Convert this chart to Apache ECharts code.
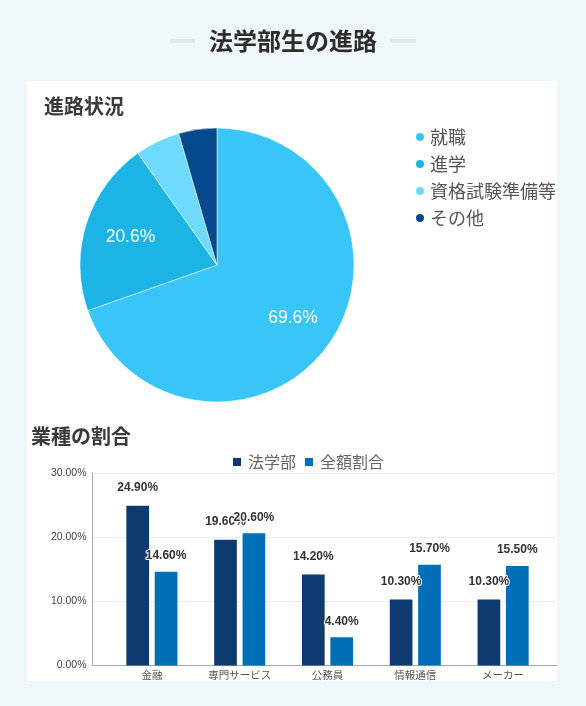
<!DOCTYPE html>
<html>
<head>
<meta charset="utf-8">
<script src="https://cdn.jsdelivr.net/npm/echarts@6/dist/echarts.min.js"></script>
<style>
html,body{margin:0;padding:0;background:#eff7fb;}
#c{width:586px;height:706px;}
</style>
</head>
<body>
<div id="c"></div>
<script>
// Pie data
const pieNames = ['就職', '進学', '資格試験準備等', 'その他'];
const pieValues = [69.6, 20.6, 5.3, 4.5];
const pieColors = ['#3ac5f8', '#1bb4e4', '#6fdafd', '#04498c'];

// Bar data
const categories = ['金融', '専門サービス', '公務員', '情報通信', 'メーカー'];
const lawValues = [24.9, 19.6, 14.2, 10.3, 10.3];
const allValues = [14.6, 20.6, 4.4, 15.7, 15.5];
const seriesNames = ['法学部', '全額割合'];
const yTicks = [0, 10, 20, 30];

const JP = '"Noto Sans CJK JP", "Noto Sans", sans-serif';
const AR = '"Liberation Sans", Arial, sans-serif';

const chart = echarts.init(document.getElementById('c'), null, {renderer: 'canvas'});

const labelShift = [[17.6, 11.7], [-18.4, -6.3], [0, 0], [0, 0]];

const option = {
  backgroundColor: 'transparent',
  animation: false,
  graphic: [
    {type: 'rect', z: -10, shape: {x: 27, y: 81, width: 530, height: 600}, style: {fill: '#ffffff'}},
    {type: 'rect', shape: {x: 170, y: 39, width: 25, height: 4}, style: {fill: '#dcebf0'}},
    {type: 'rect', shape: {x: 391, y: 39, width: 25, height: 4}, style: {fill: '#dcebf0'}}
  ],
  title: [
    {text: '法学部生の進路', left: 'center', top: 29, padding: 0,
     textStyle: {fontFamily: JP, fontSize: 24, fontWeight: 'bold', color: '#2d2d2d', lineHeight: 24}},
    {text: '進路状況', left: 44, top: 96, padding: 0,
     textStyle: {fontFamily: JP, fontSize: 20, fontWeight: 'bold', color: '#3a3a3a', lineHeight: 20}},
    {text: '業種の割合', left: 31, top: 426, padding: 0,
     textStyle: {fontFamily: JP, fontSize: 20, fontWeight: 'bold', color: '#3a3a3a', lineHeight: 20}}
  ],
  legend: [
    {data: pieNames, orient: 'vertical', left: 414, top: 128, padding: 0,
     icon: 'circle', itemWidth: 10, itemHeight: 10, itemGap: 9,
     textStyle: {fontFamily: JP, fontSize: 18, color: '#555', lineHeight: 18, padding: [0, 0, 0, 0]}},
    {data: seriesNames, left: 233, top: 454, padding: 0,
     icon: 'rect', itemWidth: 8, itemHeight: 8, itemGap: 9,
     textStyle: {fontFamily: JP, fontSize: 16, color: '#666', lineHeight: 16, padding: [0, 0, 0, 2]}}
  ],
  grid: [
    {left: 92.5, right: 29, top: 473, bottom: 40.5},
    {left: 108, right: 39, top: 473, bottom: 40.5}
  ],
  xAxis: [
    {type: 'category', gridIndex: 0, data: categories,
     axisLine: {lineStyle: {color: '#aaa'}}, axisTick: {show: false}, axisLabel: {show: false}},
    {type: 'category', gridIndex: 1, data: categories,
     axisLine: {show: false}, axisTick: {show: false},
     axisLabel: {margin: 4, fontFamily: JP, fontSize: 10.5, color: '#555'}}
  ],
  yAxis: [
    {type: 'value', gridIndex: 0, min: yTicks[0], max: yTicks[yTicks.length - 1], interval: 10,
     axisLine: {show: true, lineStyle: {color: '#aaa'}}, axisTick: {show: false},
     splitLine: {lineStyle: {color: '#ececec'}},
     axisLabel: {margin: 6, fontFamily: AR, fontSize: 10.5, color: '#444',
                 formatter: v => v.toFixed(2) + '%'}},
    {type: 'value', gridIndex: 1, min: yTicks[0], max: yTicks[yTicks.length - 1], interval: 10,
     show: false}
  ],
  series: [
    {type: 'pie', center: [217, 265], radius: 137, startAngle: 90, clockwise: true,
     data: pieNames.map((n, i) => ({name: n, value: pieValues[i], itemStyle: {color: pieColors[i]}})),
     itemStyle: {borderColor: '#fff', borderWidth: 0.5},
     label: {position: 'inside', fontFamily: AR, fontSize: 17.5, color: '#fff',
             formatter: p => p.percent >= 10 ? p.value.toFixed(1) + '%' : ''},
     labelLine: {show: false},
     labelLayout: p => ({dx: labelShift[p.dataIndex][0], dy: labelShift[p.dataIndex][1]}),
     emphasis: {disabled: true}},
    {type: 'bar', name: seriesNames[0], xAxisIndex: 1, yAxisIndex: 1, data: lawValues,
     barWidth: 22.7, barGap: '25%', itemStyle: {color: '#0e3b6f'},
     label: {show: true, position: 'top', distance: 12, fontFamily: AR, fontSize: 12, fontWeight: 'bold',
             color: '#333', textBorderColor: '#fff', textBorderWidth: 2,
             formatter: p => p.value.toFixed(2) + '%'}},
    {type: 'bar', name: seriesNames[1], xAxisIndex: 1, yAxisIndex: 1, data: allValues,
     barWidth: 22.7, barGap: '25%', itemStyle: {color: '#006fb8'},
     label: {show: true, position: 'top', distance: 10, fontFamily: AR, fontSize: 12, fontWeight: 'bold',
             color: '#333', textBorderColor: '#fff', textBorderWidth: 2,
             formatter: p => p.value.toFixed(2) + '%'}}
  ]
};
chart.setOption(option);
</script>
</body>
</html>
